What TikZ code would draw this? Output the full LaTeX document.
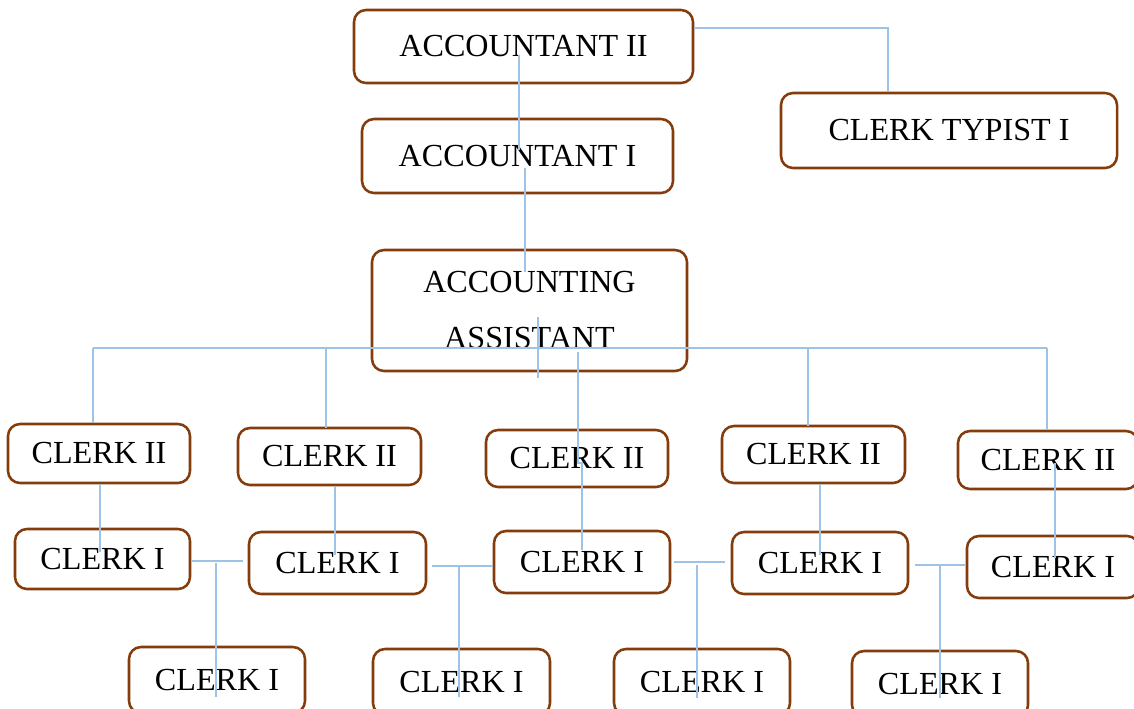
\documentclass[tikz,border=0pt]{standalone}
\usepackage{fontspec}
\setmainfont{Liberation Serif}
\usetikzlibrary{calc}
\definecolor{postedge}{RGB}{132,60,12}
\definecolor{linkblue}{RGB}{157,195,230}
\begin{document}
\begin{tikzpicture}[x=0.75pt,y=0.75pt,yscale=-1,xscale=1,
  post/.style 2 args={draw=postedge,line width=1.9pt,rounded corners=9pt,inner sep=0pt,
    minimum width=#1*0.75pt,minimum height=#2*0.75pt,align=center,
    font=\fontsize{24.1}{42}\selectfont},
  link/.style={draw=linkblue,line width=0.9pt}]
\useasboundingbox (0,0) rectangle (1134,708);
% top of the chart
\node [post={339}{73}] (acctII) at (523.5,46.5) {ACCOUNTANT II};
\node [post={336}{75}] (typist) at (949,130.5) {CLERK TYPIST I};
\node [post={311}{74}] (acctI) at (517.5,156) {ACCOUNTANT I};
\node [post={315}{121}] (assist) at (529.5,310.5) {ACCOUNTING\\ASSISTANT};
% clerk II row
\node [post={182}{59}] (clkIIa) at (99,453.5) {CLERK II};
\node [post={183}{57}] (clkIIb) at (329.5,456.5) {CLERK II};
\node [post={182}{57}] (clkIIc) at (577,458.5) {CLERK II};
\node [post={183}{57}] (clkIId) at (813.5,454.5) {CLERK II};
\node [post={180}{58}] (clkIIe) at (1048,460) {CLERK II};
% clerk I rows
\node [post={175}{60}] (clkIa) at (102.5,559) {CLERK I};
\node [post={177}{62}] (clkIb) at (337.5,563) {CLERK I};
\node [post={176}{62}] (clkIc) at (582,562) {CLERK I};
\node [post={176}{62}] (clkId) at (820,563) {CLERK I};
\node [post={172}{62}] (clkIe) at (1053,567) {CLERK I};
\node [post={176}{66}] (clkIf) at (217,680) {CLERK I};
\node [post={177}{66}] (clkIg) at (461.5,682) {CLERK I};
\node [post={176}{66}] (clkIh) at (702,682) {CLERK I};
\node [post={176}{66}] (clkIi) at (940,684) {CLERK I};
% connectors
\coordinate (tee) at (888,28);
\coordinate (busl) at (93,348);
\coordinate (busr) at (1047,348);
\coordinate (ta) at (216,561);
\coordinate (tb) at (459,566);
\coordinate (tc) at (697,562);
\coordinate (td) at (940,565);
\draw [link] (acctII.east |- tee) -- (tee) -- (tee |- typist.north);
\draw [link] (acctII.center) ++(-4.5,8.5) -- ++(0,95);
\draw [link] (acctI.center) ++(7.5,12) -- ++(0,104);
\draw [link] (assist.center) ++(8.5,6.5) -- ++(0,61);
\draw [link] (busl) -- (busr);
\draw [link] (busl) -- (busl |- clkIIa.north);
\draw [link] (326,348) -- (326,428);
\draw [link] (808,348) -- (808,426);
\draw [link] (busr) -- (busr |- clkIIe.north);
\draw [link] (clkIIc.center |- busl) ++(1,4) -- (578,463) -- (582,463) -- (582,550);
\draw [link] (clkIIa.south) ++(1,0) -- (100,552);
\draw [link] (clkIIb.south) ++(5.5,1) -- (335,555);
\draw [link] (clkId.center |- clkIId.south) -- (820,555);
\draw [link] (clkIIe.center) ++(7,3) -- (1055,558);
\draw [link] (ta) ++(-24,0) -- ++(51,0);
\draw [link] (ta) ++(0,2) -- ++(0,134);
\draw [link] (tb) ++(-27,0) -- (tb -| clkIc.west);
\draw [link] (tb) -- ++(0,131);
\draw [link] (tc) ++(-23,0) -- ++(51,0);
\draw [link] (tc) ++(0,3) -- ++(0,133);
\draw [link] (td) ++(-25,0) -- ++(51,0);
\draw [link] (td) -- ++(0,133);
\end{tikzpicture}
\end{document}
